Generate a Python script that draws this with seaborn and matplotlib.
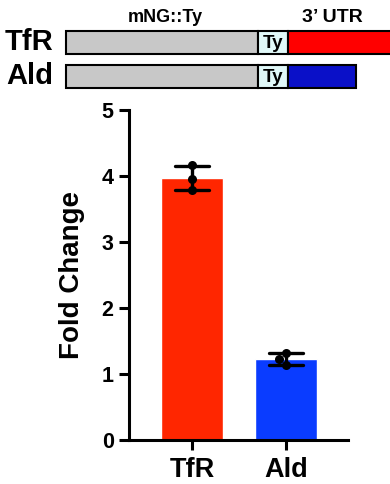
import seaborn as sns
import pandas as pd
import matplotlib.pyplot as plt

# fold change, three replicates each
genes = ['TfR', 'Ald']
tfr_vals = [4.16, 3.95, 3.79]
ald_vals = [1.32, 1.23, 1.14]
bar_colors = ['#ff2600', '#0a3cff']

# construct schematic: segment lengths (mNG::Ty, Ty tag, 3' UTR)
mng_len = [192, 192]
ty_len = [30, 30]
utr_len = [110, 68]
utr_colors = ['#ff0000', '#0a10c8']

df = pd.DataFrame({
    'gene': ['TfR'] * len(tfr_vals) + ['Ald'] * len(ald_vals),
    'fold': tfr_vals + ald_vals,
})

sns.set_style('ticks')
plt.rcParams['font.family'] = ['Liberation Sans', 'DejaVu Sans']
plt.rcParams['font.weight'] = 'bold'
plt.rcParams['text.color'] = 'black'
plt.rcParams['axes.labelcolor'] = 'black'
plt.rcParams['xtick.color'] = 'black'
plt.rcParams['ytick.color'] = 'black'

fig = plt.figure(figsize=(3.9, 4.84), dpi=100)

# --- schematic on top ---
sx = fig.add_axes([0, 1 - 100 / 484, 1, 100 / 484])
sx.set_xlim(0, 390)
sx.set_ylim(100, 0)
sx.axis('off')
rows = [42.5, 76]
start = 66
for i, g in enumerate(genes):
    sx.barh(rows[i], mng_len[i], left=start, height=23, color='#c8c8c8',
            edgecolor='black', linewidth=1.5)
    sx.barh(rows[i], ty_len[i], left=start + mng_len[i], height=23, color='#e0f8f8',
            edgecolor='black', linewidth=1.5)
    sx.barh(rows[i], utr_len[i], left=start + mng_len[i] + ty_len[i], height=23,
            color=utr_colors[i], edgecolor='black', linewidth=1.5, clip_on=False)
    sx.text(start + mng_len[i] + ty_len[i] / 2, rows[i] + 1, 'Ty', ha='center', va='center',
            fontsize=13.5, fontweight='bold')
    sx.text(53, rows[i], g, ha='right', va='center', fontsize=21, fontweight='bold')
sx.text(165, 18, 'mNG::Ty', ha='center', va='center', fontsize=13, fontweight='bold')
sx.text(332, 18, '3\u2019 UTR', ha='center', va='center', fontsize=14, fontweight='bold')

# --- bar chart ---
ax = fig.add_axes([129 / 390, 1 - 440 / 484, (348 - 129) / 390, 330 / 484])
sns.barplot(data=df, x='gene', y='fold', order=genes, hue='gene', palette=bar_colors,
            width=0.66, errorbar='sd', capsize=0.36, legend=False,
            err_kws={'color': 'black', 'linewidth': 2.4}, saturation=1, ax=ax)
sns.swarmplot(data=df, x='gene', y='fold', order=genes, color='black', size=6.5, ax=ax)

ax.set_xlim(-0.67, 1.66)
ax.set_ylim(0, 5)
ax.set_yticks(range(6))
ax.set_xlabel('')
ax.set_ylabel('Fold Change', fontsize=20, fontweight='bold', labelpad=12)
sns.despine(ax=ax)
for s in ['left', 'bottom']:
    ax.spines[s].set_linewidth(2.2)
    ax.spines[s].set_color('black')
ax.tick_params(axis='both', length=7, width=2.2, color='black')
ax.tick_params(axis='y', labelsize=15.5, pad=4)
ax.tick_params(axis='x', labelsize=19.5, pad=5)
for lab in ax.get_xticklabels() + ax.get_yticklabels():
    lab.set_fontweight('bold')

fig.savefig('out.png', dpi=100)
